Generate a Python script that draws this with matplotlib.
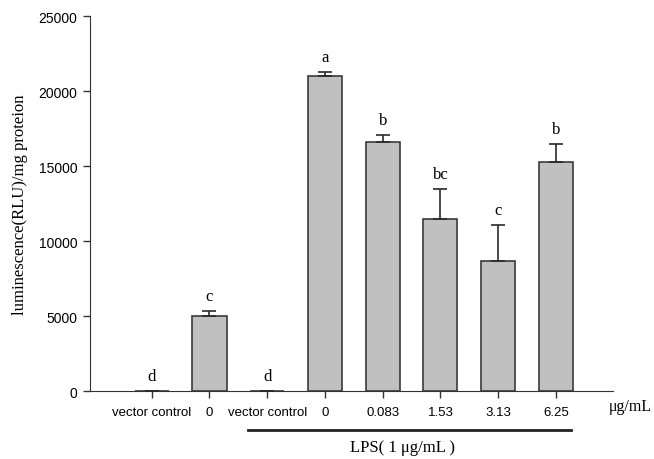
import matplotlib
matplotlib.use("Agg")
import matplotlib.pyplot as plt
from matplotlib.lines import Line2D

categories = ["vector control", "0", "vector control", "0", "0.083", "1.53", "3.13", "6.25"]
means = [0, 5000, 0, 21000, 16600, 11470, 8690, 15280]
errors = [0, 320, 0, 280, 470, 2000, 2400, 1190]
letters = ["d", "c", "d", "a", "b", "bc", "c", "b"]

fig = plt.figure(figsize=(6.54, 4.6), dpi=100)
ax = fig.add_axes([0.1376, 0.1478, 0.7998, 0.8152])

x = list(range(len(categories)))
ax.bar(x, means, width=0.59, color="#c0c0c0", edgecolor="#3a3a3a", linewidth=1.2, zorder=2)
ax.errorbar(x, means, yerr=[[0] * len(errors), errors], fmt="none",
            ecolor="#2a2a2a", elinewidth=1.2, capsize=5, capthick=1.2, zorder=3)

for xi, m, e, lab in zip(x, means, errors, letters):
    ax.annotate(lab, (xi, m + e), xytext=(0, 5), textcoords="offset points",
                ha="center", va="bottom", fontsize=12, family="Liberation Serif")

ax.set_xlim(-1.07, 7.99)
ax.set_ylim(0, 25000)
ax.set_yticks([0, 5000, 10000, 15000, 20000, 25000])
ax.set_xticks(x)
ax.set_xticklabels(categories, fontsize=9.5, family="Liberation Sans")
for t in ax.get_yticklabels():
    t.set_family("Liberation Sans")
    t.set_fontsize(10)
ax.tick_params(direction="out", length=5, width=1, color="#333333", pad=4)
ax.tick_params(axis="x", pad=6)

ax.spines["top"].set_visible(False)
ax.spines["right"].set_visible(False)
ax.spines["left"].set_color("#333333")
ax.spines["bottom"].set_color("#333333")

ax.set_ylabel("luminescence(RLU)/mg proteion", family="Liberation Serif", fontsize=12, labelpad=8)

fig.text(652 / 654, 1 - 407 / 460, "μg/mL", family="Liberation Serif", fontsize=11.5,
         ha="right", va="center")
fig.add_artist(Line2D([248 / 654, 571 / 654], [1 - 431 / 460, 1 - 431 / 460],
                      color="#222222", linewidth=2, transform=fig.transFigure))
fig.text(402 / 654, 1 - 448 / 460, "LPS( 1 μg/mL )", family="Liberation Serif", fontsize=12,
         ha="center", va="center")

fig.savefig("out.png", dpi=100)
